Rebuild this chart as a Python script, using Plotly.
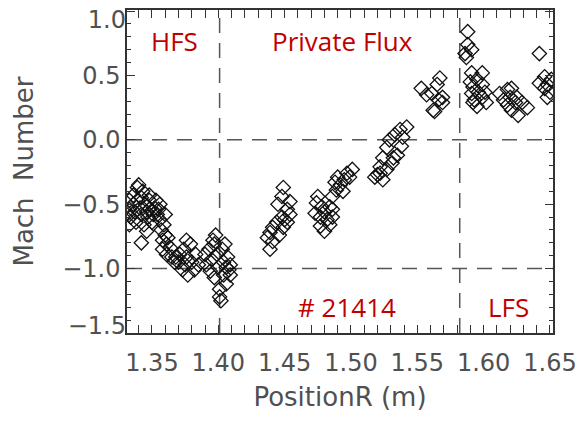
import plotly.graph_objects as go

# ---- data ----
hfs_r = [1.331, 1.333, 1.333, 1.334, 1.336, 1.336, 1.337, 1.338, 1.339, 1.339, 1.340,
         1.341, 1.342, 1.342, 1.343, 1.344, 1.345, 1.346, 1.346, 1.347, 1.348, 1.348,
         1.350, 1.351, 1.352, 1.353, 1.355, 1.356, 1.357, 1.358, 1.358, 1.359, 1.360,
         1.361, 1.361, 1.362, 1.364, 1.365, 1.360, 1.356, 1.367, 1.354, 1.342, 1.333,
         1.348,
         1.370, 1.371, 1.373, 1.374, 1.375, 1.376, 1.377, 1.379, 1.380, 1.382, 1.383,
         1.376, 1.385, 1.368,
         1.390, 1.391, 1.393, 1.394, 1.395, 1.397, 1.397, 1.398, 1.399, 1.400, 1.401,
         1.401, 1.403, 1.404, 1.404, 1.406, 1.406, 1.407, 1.408, 1.409, 1.405, 1.396,
         1.402, 1.409]
hfs_m = [-0.58, -0.47, -0.54, -0.60, -0.50, -0.43, -0.56, -0.64, -0.47, -0.37, -0.35,
         -0.53, -0.58, -0.45, -0.40, -0.66, -0.50, -0.56, -0.71, -0.60, -0.47, -0.54,
         -0.64, -0.58, -0.53, -0.47, -0.54, -0.62, -0.70, -0.78, -0.85, -0.66, -0.74,
         -0.81, -0.89, -0.76, -0.84, -0.91, -0.58, -0.50, -0.95, -0.58, -0.80, -0.66,
         -0.43,
         -0.95, -0.89, -1.01, -0.85, -0.97, -0.91, -1.05, -0.81, -0.95, -1.01, -0.89,
         -0.78, -0.97, -0.91,
         -0.89, -0.97, -0.85, -1.02, -0.93, -1.07, -0.81, -0.74, -0.89, -0.99, -1.16,
         -1.22, -0.85, -0.95, -1.05, -1.12, -0.99, -0.91, -1.01, -0.97, -0.81, -0.78,
         -1.25, -1.05]

pf_r = [1.449, 1.448, 1.454, 1.452, 1.445, 1.454, 1.448, 1.444, 1.452, 1.441, 1.449,
        1.439, 1.437, 1.441, 1.439, 1.446, 1.450,
        1.475, 1.474, 1.478, 1.473, 1.480, 1.477, 1.482, 1.486, 1.477, 1.484, 1.480,
        1.484, 1.486, 1.489, 1.492, 1.495, 1.499, 1.494, 1.488, 1.497, 1.490, 1.501,
        1.486,
        1.537, 1.542, 1.533, 1.529, 1.538, 1.527, 1.535, 1.524, 1.531, 1.522, 1.527,
        1.520, 1.524, 1.518, 1.532, 1.539, 1.522,
        1.553, 1.567, 1.565, 1.561, 1.569, 1.566, 1.563, 1.557, 1.569, 1.562]
pf_m = [-0.37, -0.44, -0.48, -0.54, -0.50, -0.58, -0.60, -0.64, -0.64, -0.68, -0.68,
        -0.72, -0.76, -0.79, -0.85, -0.74, -0.62,
        -0.44, -0.49, -0.52, -0.57, -0.56, -0.60, -0.62, -0.60, -0.67, -0.66, -0.71,
        -0.52, -0.44, -0.39, -0.35, -0.31, -0.29, -0.40, -0.33, -0.26, -0.29, -0.23,
        -0.54,
        0.08, 0.10, 0.04, 0.00, -0.05, -0.06, -0.12, -0.14, -0.18, -0.21, -0.23,
        -0.27, -0.31, -0.29, -0.14, 0.02, -0.26,
        0.40, 0.48, 0.43, 0.36, 0.33, 0.31, 0.22, 0.35, 0.29, 0.23]

lfs_r = [1.588, 1.588, 1.591, 1.586, 1.587, 1.591, 1.599, 1.590, 1.595, 1.592, 1.599,
         1.591, 1.596, 1.601, 1.593, 1.599, 1.595, 1.592, 1.602,
         1.612, 1.618, 1.621, 1.615, 1.620, 1.625, 1.618, 1.624, 1.629, 1.633, 1.626,
         1.621,
         1.642, 1.646, 1.642, 1.648, 1.650, 1.646, 1.651, 1.648]
lfs_m = [0.84, 0.74, 0.70, 0.67, 0.64, 0.52, 0.52, 0.45, 0.47, 0.41, 0.43,
         0.36, 0.37, 0.37, 0.31, 0.33, 0.26, 0.29, 0.29,
         0.36, 0.39, 0.40, 0.31, 0.33, 0.33, 0.27, 0.29, 0.29, 0.25, 0.19,
         0.23,
         0.67, 0.49, 0.44, 0.43, 0.37, 0.40, 0.47, 0.33]

region_bounds = [1.401, 1.582]   # vertical dashed separators (m)
ref_levels = [0.0, -1.0]         # horizontal dashed reference Mach numbers

x_ticks = [1.35, 1.40, 1.45, 1.50, 1.55, 1.60, 1.65]
y_ticks = [-1.5, -1.0, -0.5, 0.0, 0.5, 1.0]
y_inner_labels = [-1.0, -0.5, 0.0, 0.5]
y_top_label = [1.0]
y_bottom_label = [-1.5]

labels = [("HFS", 1.367, 0.77), ("Private Flux", 1.494, 0.77),
          ("# 21414", 1.497, -1.30), ("LFS", 1.619, -1.30)]

R = hfs_r + pf_r + lfs_r
M = hfs_m + pf_m + lfs_m

y_range = [-1.5005, 1.0085]

fig = go.Figure()
fig.add_trace(go.Scatter(
    x=R, y=M, mode="markers",
    marker=dict(symbol="diamond-open", size=11, color="#111111",
                line=dict(width=1.3, color="#111111")),
    showlegend=False))

dash_style = dict(color="#555555", width=1.5, dash="15px,10px")
for xb in region_bounds:
    fig.add_shape(type="line", xref="x", yref="paper", x0=xb, x1=xb, y0=0, y1=1,
                  line=dash_style, layer="below")
for yl in ref_levels:
    fig.add_shape(type="line", xref="paper", yref="y", x0=0, x1=1, y0=yl, y1=yl,
                  line=dash_style, layer="below")

for txt, lx, ly in labels:
    fig.add_annotation(x=lx, y=ly, text=txt, showarrow=False,
                       font=dict(family="Open Sans", size=26, color="#c00000"),
                       xanchor="center", yanchor="middle")

tick_font = dict(family="DejaVu Sans", size=24, color="#505050")
axis_common = dict(showline=True, linecolor="#333333", linewidth=1.5, mirror="allticks",
                   ticks="inside", ticklen=8, tickwidth=1.2, tickcolor="#333333",
                   showgrid=False, zeroline=False, tickfont=tick_font,
                   automargin=False, ticklabeloverflow="allow")

fig.update_xaxes(range=[1.3312, 1.6523], tickvals=x_ticks, tickformat=".2f",
                 minor=dict(dtick=0.01, ticks="inside", ticklen=4, tickcolor="#333333"),
                 ticklabelstandoff=7,
                 title=dict(text="PositionR (m)", standoff=12,
                            font=dict(family="DejaVu Sans", size=26, color="#505050")),
                 **axis_common)
fig.update_yaxes(range=y_range, tickvals=y_ticks,
                 ticktext=[f"{v:.1f}".replace("-", "\u2212") if v in y_inner_labels else ""
                           for v in y_ticks],
                 minor=dict(dtick=0.1, ticks="inside", ticklen=4, tickcolor="#333333"),
                 title=dict(text="Mach  Number", standoff=21,
                            font=dict(family="DejaVu Sans", size=26, color="#505050")),
                 **axis_common)

# end labels drawn by label-only overlay axes, nudged inside the frame as in the original
end_axis = dict(overlaying="y", side="left", anchor="x", range=y_range, showline=False,
                ticks="", showgrid=False, zeroline=False, tickfont=tick_font,
                automargin=False, ticklabeloverflow="allow", tickformat=".1f")
fig.update_layout(
    yaxis2=dict(tickvals=y_top_label, ticklabelshift=9, **end_axis),
    yaxis3=dict(tickvals=y_bottom_label, ticklabelshift=-7, **end_axis),
)
# invisible helper traces so the overlay axes are drawn
fig.add_trace(go.Scatter(x=[R[0]], y=[M[0]], yaxis="y2", mode="markers",
                         marker=dict(opacity=0), showlegend=False, hoverinfo="skip"))
fig.add_trace(go.Scatter(x=[R[0]], y=[M[0]], yaxis="y3", mode="markers",
                         marker=dict(opacity=0), showlegend=False, hoverinfo="skip"))

fig.update_layout(width=582, height=424, paper_bgcolor="white", plot_bgcolor="white",
                  margin=dict(l=127, r=29, t=10, b=91))

# remove the browser's default 8px body margin so the figure fills the window
fig.write_html("out.html", config={"displayModeBar": False},
               post_script="document.body.style.margin='0';document.body.style.overflow='hidden';")
